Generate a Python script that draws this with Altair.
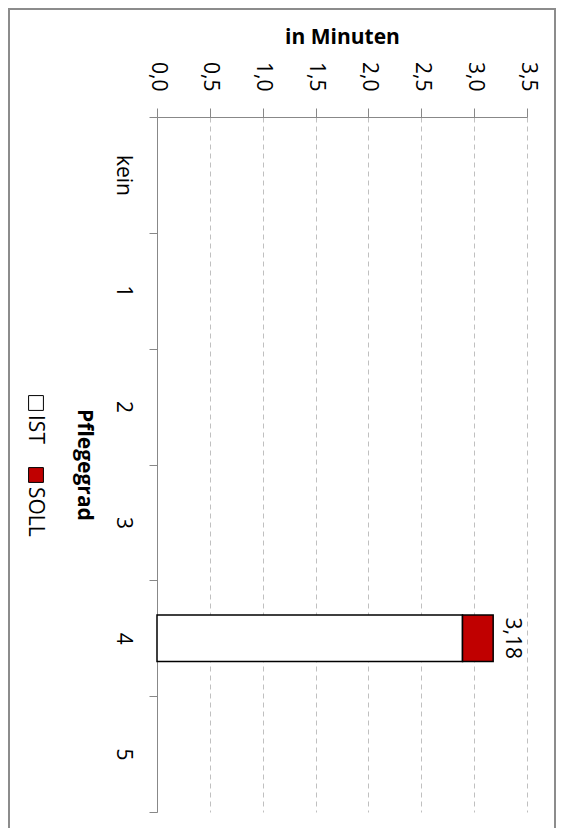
import altair as alt
import pandas as pd

# ---- data ----
categories = ["kein", "1", "2", "3", "4", "5"]
ist_values = [None, None, None, None, 2.89, None]
soll_values = [None, None, None, None, 3.18, None]
series_names = ["IST", "SOLL"]
series_colors = ["#ffffff", "#c00000"]
x_ticks = [0.0, 0.5, 1.0, 1.5, 2.0, 2.5, 3.0, 3.5]

FONT = "Open Sans"
FS = 21

bar_rows = []
label_rows = []
for c, i, s in zip(categories, ist_values, soll_values):
    if i is not None:
        bar_rows.append({"cat": c, "series": "IST", "start": 0.0, "end": i})
    if s is not None:
        bar_rows.append({"cat": c, "series": "SOLL", "start": i, "end": s})
        label_rows.append({"cat": c, "soll": s})
bars_df = pd.DataFrame(bar_rows)
labels_df = pd.DataFrame(label_rows)

x_scale = alt.Scale(domain=[0, 3.5], nice=False, zero=True)
y_scale = alt.Scale(domain=categories, paddingInner=0, paddingOuter=0)

x_axis = alt.Axis(
    orient="top", values=x_ticks,
    labelExpr="replace(format(datum.value, '.1f'), '.', ',')",
    labelAngle=90, labelAlign="right", labelBaseline="middle",
    labelPadding=17, labelFont=FONT, labelFontSize=FS, labelColor="black",
    tickSize=9, tickColor="#888888", domainColor="#888888",
    grid=True, gridDash=[5, 4], gridColor="#c0c0c0",
    title="in Minuten", titleFont=FONT, titleFontSize=FS, titleFontWeight="bold",
    titleColor="black", titleAngle=0, titleAlign="center",
    titleBaseline="alphabetic", titleX=185, titleY=-74,
)
y_axis = alt.Axis(
    orient="left", labelAngle=90, labelAlign="center", labelBaseline="top",
    labelPadding=16, labelFont=FONT, labelFontSize=FS, labelColor="black",
    tickSize=8, tickBand="extent", tickColor="#888888", domainColor="#888888",
    grid=False,
    title="Pflegegrad", titleFont=FONT, titleFontSize=FS, titleFontWeight="bold",
    titleColor="black", titleAngle=90, titleAlign="center",
    titleBaseline="middle", titleX=-74, titleY=347.5,
)

bars = alt.Chart(bars_df).mark_bar(
    stroke="black", strokeWidth=1.5, height={"band": 0.4}
).encode(
    y=alt.Y("cat:N", scale=y_scale, axis=y_axis),
    x=alt.X("start:Q", scale=x_scale, axis=x_axis),
    x2="end:Q",
    color=alt.Color("series:N",
                    scale=alt.Scale(domain=series_names, range=series_colors),
                    legend=None),
)

labels = alt.Chart(labels_df).transform_calculate(
    lab="replace(format(datum.soll, '.2f'), '.', ',')"
).mark_text(angle=90, align="center", baseline="alphabetic", dy=-13,
            font=FONT, fontSize=FS, color="black").encode(
    y=alt.Y("cat:N", scale=y_scale, axis=y_axis),
    x=alt.X("soll:Q", scale=x_scale, axis=x_axis),
    text="lab:N",
)

dummy = pd.DataFrame({"d": [0]})
frame = alt.Chart(dummy).mark_rect(fillOpacity=0, stroke="#8c8c8c", strokeWidth=2).encode(
    x=alt.value(-148), x2=alt.value(398), y=alt.value(-108), y2=alt.value(730)
)

legend_layers = []
legend_sq_y = [286, 358]
legend_txt_y = [298, 370]
for name, col, sy, ty in zip(series_names, series_colors, legend_sq_y, legend_txt_y):
    legend_layers.append(
        alt.Chart(dummy).mark_square(size=220, fill=col, fillOpacity=1,
                                     stroke="black", strokeWidth=1).encode(
            x=alt.value(-121), y=alt.value(sy))
    )
    legend_layers.append(
        alt.Chart(dummy).mark_text(angle=90, align="left", baseline="middle",
                                   font=FONT, fontSize=FS, color="black").encode(
            x=alt.value(-122), y=alt.value(ty), text=alt.value(name))
    )

chart = alt.layer(frame, bars, labels, *legend_layers).properties(
    width=370, height=695,
    autosize=alt.AutoSizeParams(type="none"),
    padding={"left": 149, "top": 109, "right": 29, "bottom": 16},
    background="white",
).configure_view(strokeWidth=0)

chart.save("out.html", embed_options={"renderer": "svg", "actions": False})
